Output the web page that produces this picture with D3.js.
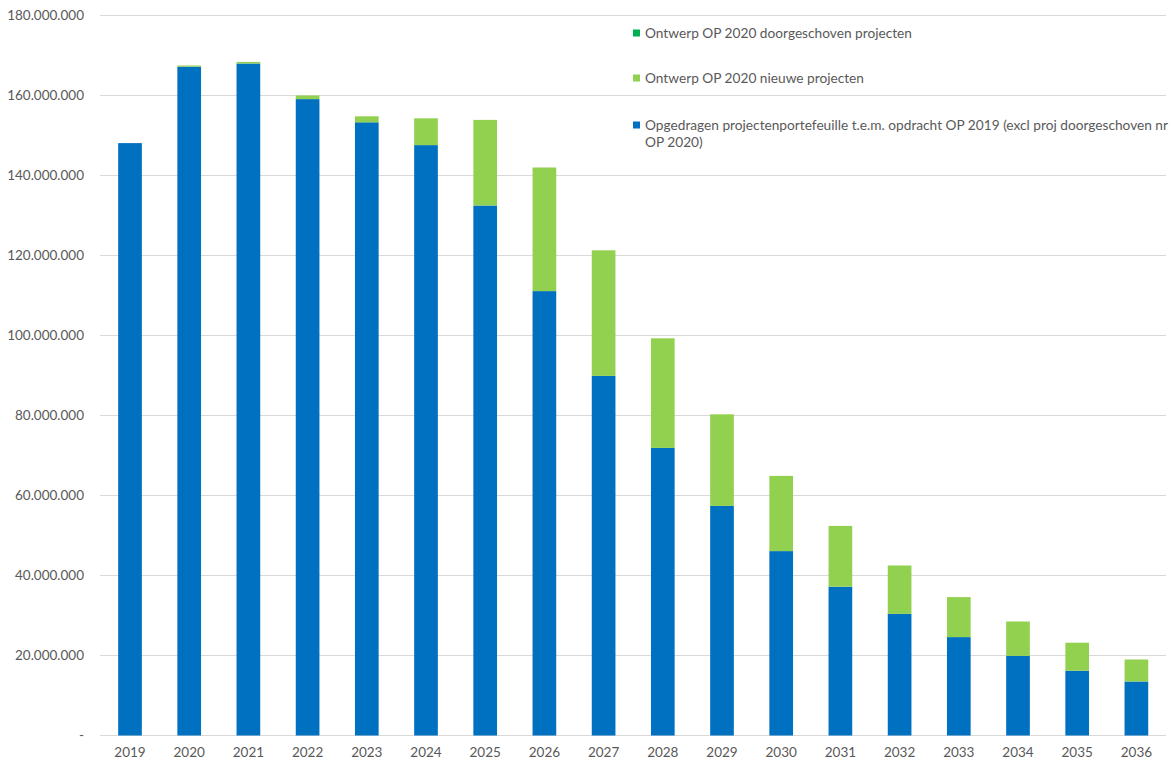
<!DOCTYPE html>
<meta charset="utf-8">
<style>
 body { margin: 0; background: #fff; }
 .grid line { stroke: #d9d9d9; stroke-width: 1; shape-rendering: crispEdges; }
 text { font-family: Lato, 'Open Sans', sans-serif; fill: #595959; }
</style>
<body>
<script src="https://cdn.jsdelivr.net/npm/d3@7"></script>
<script>

 var years = ["2019","2020","2021","2022","2023","2024","2025","2026","2027",
              "2028","2029","2030","2031","2032","2033","2034","2035","2036"];

 // Opgedragen projectenportefeuille (blue)
 var opgedragen = [148.1, 167.2, 168.0, 159.1, 153.3, 147.6, 132.5, 111.1, 89.9,
                   71.9, 57.4, 46.1, 37.2, 30.4, 24.6, 19.9, 16.2, 13.5];
 // Ontwerp OP 2020 nieuwe projecten (light green)
 var nieuwe = [0, 0.3, 0.4, 0.9, 1.5, 6.7, 21.4, 30.9, 31.4,
               27.4, 22.9, 18.8, 15.2, 12.1, 10.0, 8.6, 7.0, 5.5];
 // Ontwerp OP 2020 doorgeschoven projecten (dark green)
 var doorgeschoven = [0, 0, 0, 0, 0, 0, 0, 0, 0,
                      0, 0, 0, 0, 0, 0, 0, 0, 0];

 var yTicks = [0, 20, 40, 60, 80, 100, 120, 140, 160, 180];

 var seriesKeys = ["opgedragen", "nieuwe", "doorgeschoven"];
 var colors = {opgedragen: "#0070C0", nieuwe: "#92D050", doorgeschoven: "#00B050"};

 var data = years.map(function(y, i) {
     return {year: y,
             opgedragen: opgedragen[i] * 1e6,
             nieuwe: nieuwe[i] * 1e6,
             doorgeschoven: doorgeschoven[i] * 1e6};
 });

 var W = 1174, H = 764;
 var margin = {left: 100.4, right: 1166, top: 15.5, bottom: 735.5};

 var svg = d3.select("body").append("svg")
             .attr("width", W)
             .attr("height", H);

 var x = d3.scaleBand()
           .domain(years)
           .range([margin.left, margin.right])
           .paddingInner(0.6)
           .paddingOuter(0.3);

 var y = d3.scaleLinear()
           .domain([0, 180e6])
           .range([margin.bottom, margin.top]);

 // gridlines
 svg.append("g")
    .attr("class", "grid")
    .selectAll("line")
    .data(yTicks)
    .enter().append("line")
    .attr("x1", 100)
    .attr("x2", 1166)
    .attr("y1", d => Math.floor(y(d * 1e6)) + 0.5)
    .attr("y2", d => Math.floor(y(d * 1e6)) + 0.5);

 // y labels
 var fmt = d3.formatLocale({decimal: ",", thousands: ".", grouping: [3], currency: ["", ""]}).format(",");
 svg.append("g")
    .selectAll("text")
    .data(yTicks)
    .enter().append("text")
    .attr("x", 84)
    .attr("y", d => y(d * 1e6))
    .attr("dy", "0.35em")
    .attr("text-anchor", "end")
    .attr("font-size", "13.5px")
    .text(d => d === 0 ? "-" : fmt(d * 1e6));

 // stacked bars
 var stack = d3.stack().keys(seriesKeys);
 var layers = stack(data);

 svg.append("g")
    .selectAll("g")
    .data(layers)
    .enter().append("g")
    .attr("fill", d => colors[d.key])
    .selectAll("rect")
    .data(d => d)
    .enter().append("rect")
    .attr("x", d => x(d.data.year))
    .attr("width", x.bandwidth())
    .attr("y", d => y(d[1]))
    .attr("height", d => y(d[0]) - y(d[1]));

 // x labels
 svg.append("g")
    .selectAll("text")
    .data(years)
    .enter().append("text")
    .attr("x", d => x(d) + x.bandwidth() / 2)
    .attr("y", 757)
    .attr("text-anchor", "middle")
    .attr("font-size", "13.5px")
    .text(d => d);

 // legend
 var legend = [
     {key: "doorgeschoven", lines: ["Ontwerp OP 2020 doorgeschoven projecten"], y: 33},
     {key: "nieuwe", lines: ["Ontwerp OP 2020 nieuwe projecten"], y: 78},
     {key: "opgedragen", lines: ["Opgedragen projectenportefeuille t.e.m. opdracht OP 2019 (excl proj doorgeschoven nr", "OP 2020)"], y: 125}
 ];

 var lg = svg.append("g")
             .selectAll("g")
             .data(legend)
             .enter().append("g");

 lg.append("rect")
   .attr("x", 633)
   .attr("y", d => d.y - 3.5)
   .attr("width", 7)
   .attr("height", 7)
   .attr("fill", d => colors[d.key]);

 lg.append("text")
   .attr("font-size", "13.7px")
   .selectAll("tspan")
   .data(d => d.lines.map((l, i) => ({text: l, y: d.y + i * 17})))
   .enter().append("tspan")
   .attr("x", 645)
   .attr("y", d => d.y)
   .attr("dy", "0.35em")
   .text(d => d.text);

</script>
